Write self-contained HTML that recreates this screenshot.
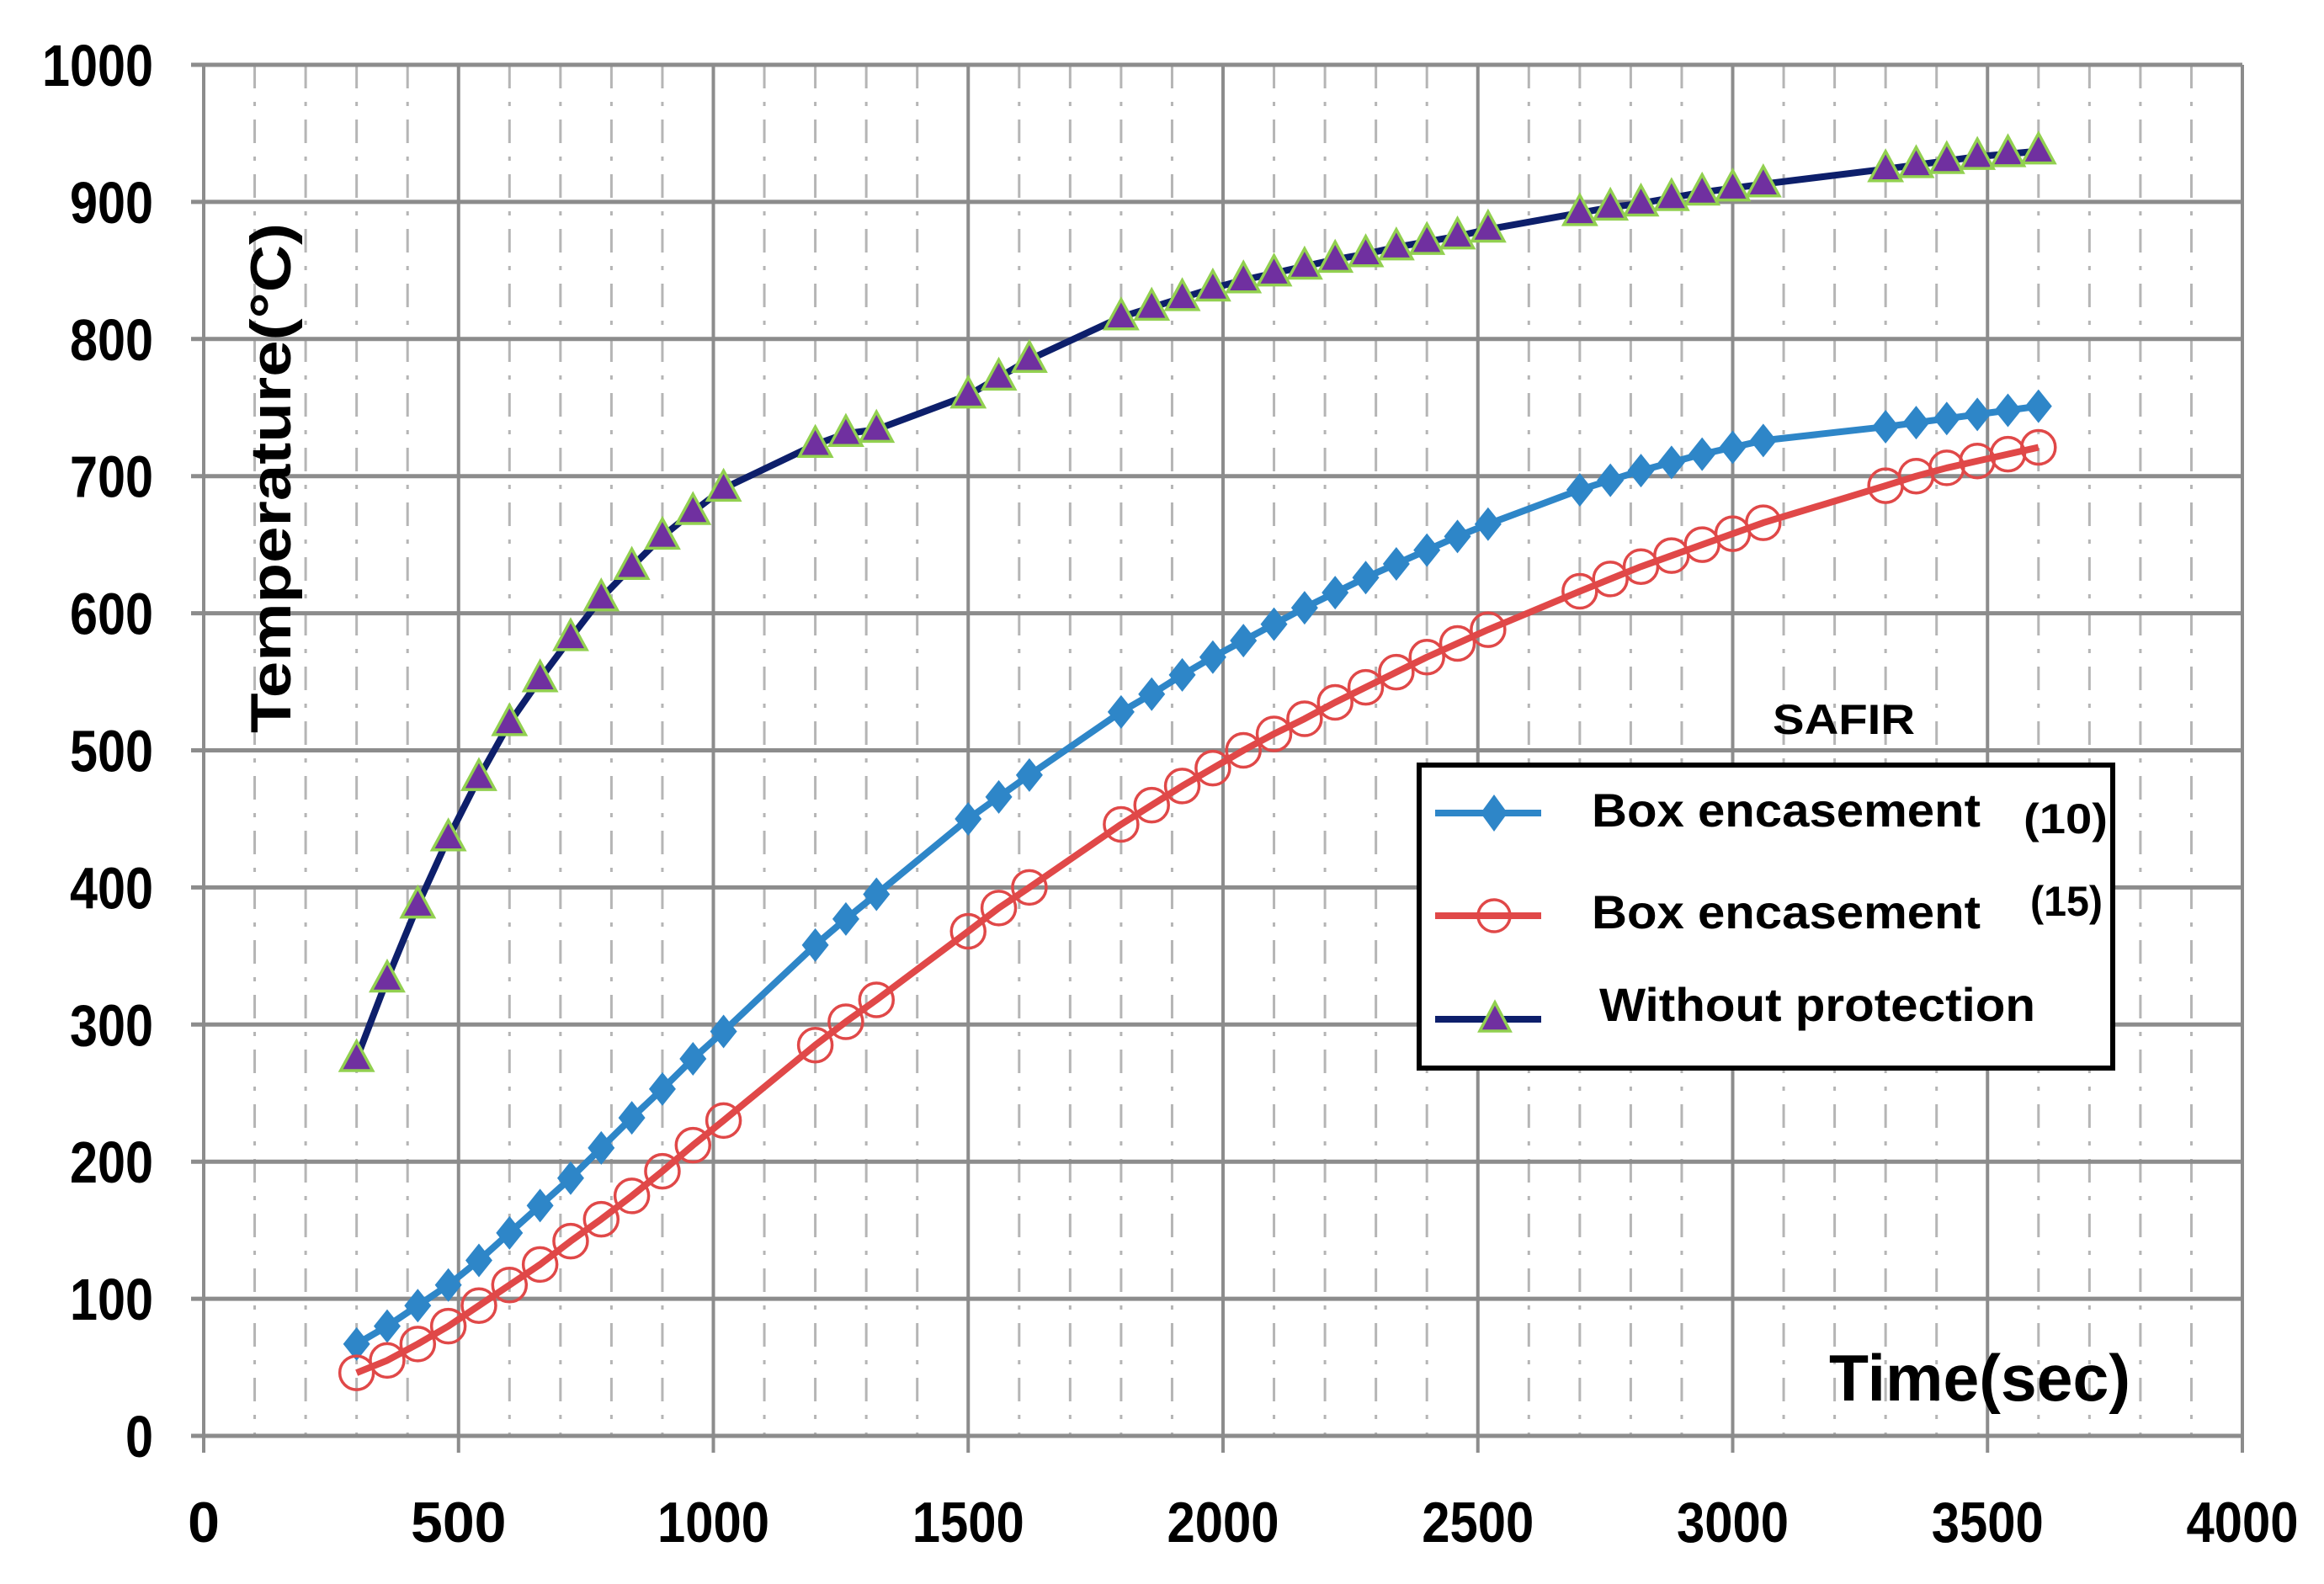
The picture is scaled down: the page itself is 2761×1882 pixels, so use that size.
<!DOCTYPE html>
<html><head><meta charset="utf-8"><style>
html,body{margin:0;padding:0;background:#fff;}
svg{display:block;font-family:"Liberation Sans",sans-serif;}
</style></head><body>
<svg id="chart" width="2761" height="1882" viewBox="0 0 2761 1882" xmlns="http://www.w3.org/2000/svg">
<rect width="2761" height="1882" fill="#fff"/>
<g id="grid"></g>
<g id="axes"></g>
<g id="series"></g>
<text transform="translate(345,568) rotate(-90)" text-anchor="middle" font-size="68" font-weight="bold" textLength="606" lengthAdjust="spacingAndGlyphs">Temperature(°C)</text>
<text x="2173" y="1664" font-size="78" font-weight="bold" textLength="358" lengthAdjust="spacingAndGlyphs">Time(sec)</text>
<text x="2106" y="872" font-size="50" font-weight="bold" textLength="169" lengthAdjust="spacingAndGlyphs">SAFIR</text>
<g id="legend">
<rect x="1686" y="909" width="824" height="360" fill="#fff" stroke="#000" stroke-width="6"/>
<g>
<line x1="1705" y1="966" x2="1831" y2="966" stroke="#2e86c8" stroke-width="8"/>
<polygon points="1775,944 1791,966 1775,988 1759,966" fill="#2e86c8"/>
<text x="1891" y="982" font-size="56" font-weight="bold" textLength="462" lengthAdjust="spacingAndGlyphs">Box encasement</text>
<text x="2404" y="990" font-size="50" font-weight="bold" textLength="100" lengthAdjust="spacingAndGlyphs">(10)</text>
</g>
<g>
<line x1="1705" y1="1088" x2="1831" y2="1088" stroke="#e04848" stroke-width="8"/>
<circle cx="1775" cy="1088" r="19" fill="none" stroke="#e04848" stroke-width="3.5"/>
<text x="1891" y="1103" font-size="56" font-weight="bold" textLength="462" lengthAdjust="spacingAndGlyphs">Box encasement</text>
<text x="2412" y="1088" font-size="50" font-weight="bold" textLength="86" lengthAdjust="spacingAndGlyphs">(15)</text>
</g>
<g>
<line x1="1705" y1="1211" x2="1831" y2="1211" stroke="#0d1f6b" stroke-width="8"/>
<polygon points="1776,1191 1794,1225 1758,1225" fill="#7030a0" stroke="#92d050" stroke-width="3.5"/>
<text x="1900" y="1213" font-size="56" font-weight="bold" textLength="518" lengthAdjust="spacingAndGlyphs">Without protection</text>
</g>
</g>
</svg>
<script>
const times = [300,360,420,480,540,600,660,720,780,840,900,960,1020,1200,1260,1320,1500,1560,1620,1800,1860,1920,1980,2040,2100,2160,2220,2280,2340,2400,2460,2520,2700,2760,2820,2880,2940,3000,3060,3300,3360,3420,3480,3540,3600];
const box10 = [67,80,95,110,128,148,168,188,210,232,253,275,295,358,377,395,450,466,482,528,541,555,568,580,592,604,615,626,636,646,656,665,690,697,704,710,716,721,726,736,739,742,745,748,751];
const box15 = [46,55,67,80,95,110,125,142,158,175,193,212,230,285,302,318,368,385,400,446,460,474,487,500,512,523,535,546,557,568,578,588,616,625,634,642,650,658,666,693,700,706,711,716,721];
const noProt = [275,333,387,436,480,520,552,582,611,634,656,674,691,723,731,734,759,772,785,816,823,830,837,843,848,853,858,862,867,871,875,880,892,896,899,903,907,910,913,924,927,930,933,935,937];
const xTicks = [0,500,1000,1500,2000,2500,3000,3500,4000];
const yTicks = [0,100,200,300,400,500,600,700,800,900,1000];

const NS = "http://www.w3.org/2000/svg";
const L = 242, R = 2664, T = 77, B = 1706;
const xs = v => L + (v - 0) / 4000 * (R - L);
const ys = v => B - v / 1000 * (B - T);
function mk(tag, attrs, parent) {
  const e = document.createElementNS(NS, tag);
  for (const k in attrs) e.setAttribute(k, attrs[k]);
  parent.appendChild(e);
  return e;
}
const grid = document.getElementById('grid');
const axes = document.getElementById('axes');
const series = document.getElementById('series');

for (let v = 100; v < 4000; v += 100) {
  if (v % 500 === 0) continue;
  const l = mk('line', {x1: xs(v), x2: xs(v), y1: T, y2: B, stroke: '#b5b5b5', 'stroke-width': 3, 'stroke-dasharray': '28 16 5 16'}, grid);
  
  
}
xTicks.forEach(v => {
  const l = mk('line', {x1: xs(v), x2: xs(v), y1: T, y2: B + 20, stroke: '#8c8c8c', 'stroke-width': 4}, grid);
  
  
  const t = mk('text', {x: xs(v), y: 1832, 'text-anchor': 'middle', 'font-size': 68, 'font-weight': 'bold'}, axes);
  if (String(v).length === 4) { t.setAttribute('textLength', 133); t.setAttribute('lengthAdjust', 'spacingAndGlyphs'); }
  t.textContent = v;
  
  
});
yTicks.forEach(v => {
  const l = mk('line', {x1: L - 15, x2: R, y1: ys(v), y2: ys(v), stroke: '#8c8c8c', 'stroke-width': 5}, grid);
  
  
  const t = mk('text', {x: 182, y: ys(v) + 25, 'text-anchor': 'end', 'font-size': 70, 'font-weight': 'bold'}, axes);
  const n = String(v).length;
  t.setAttribute('textLength', n * 33);
  t.setAttribute('lengthAdjust', 'spacingAndGlyphs');
  t.textContent = v;
  
  
});

function line(vals, color, name) {
  const p = mk('polyline', {points: times.map((t, i) => xs(t) + ',' + ys(vals[i])).join(' '), fill: 'none', stroke: color, 'stroke-width': 8, 'stroke-linejoin': 'round'}, series);
  
  
}
line(box10, '#2e86c8', 'line-box-encasement-10');
line(box15, '#e04848', 'line-box-encasement-15');
line(noProt, '#0d1f6b', 'line-without-protection');

times.forEach((t, i) => {
  const x = xs(t);
  let y = ys(box10[i]);
  const d = mk('polygon', {points: `${x},${y-20} ${x+16},${y} ${x},${y+20} ${x-16},${y}`, fill: '#2e86c8'}, series);
  
  
  y = ys(box15[i]);
  const c = mk('circle', {cx: x, cy: y, r: 20, fill: 'none', stroke: '#e04848', 'stroke-width': 3.5}, series);
  
  
  y = ys(noProt[i]);
  const tr = mk('polygon', {points: `${x},${y-21} ${x+19},${y+14} ${x-19},${y+14}`, fill: '#7030a0', stroke: '#92d050', 'stroke-width': 3.5}, series);
  
  
});
</script>
</body></html>
